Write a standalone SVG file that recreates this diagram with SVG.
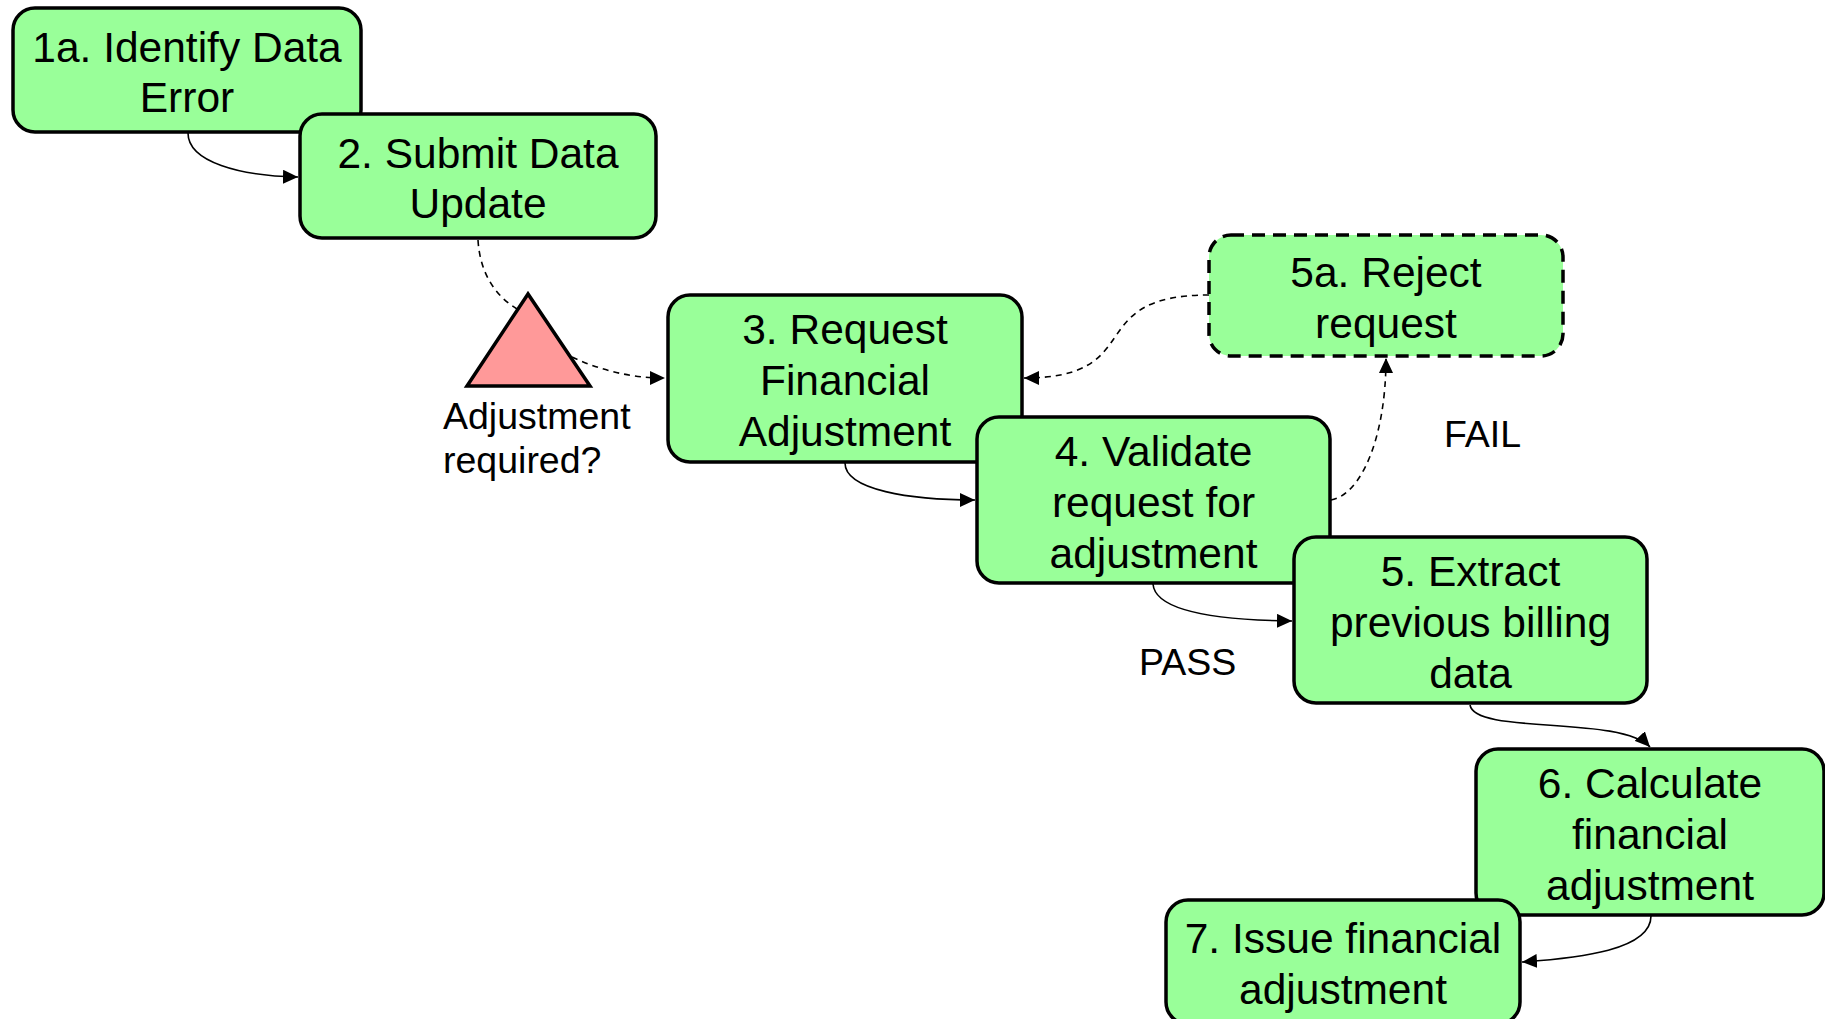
<svg xmlns="http://www.w3.org/2000/svg" width="1825" height="1019" viewBox="0 0 1825 1019">
<style>
.box{fill:#99FF99;stroke:#000;stroke-width:3.5}
.dashbox{stroke-dasharray:13 8}
.t{font-family:"Liberation Sans",Arial,sans-serif;font-size:42.5px;fill:#000;text-anchor:middle}
.lbl{font-family:"Liberation Sans",Arial,sans-serif;font-size:37.5px;fill:#000}
.c{fill:none;stroke:#000;stroke-width:1.6}
.d{stroke-dasharray:6 5}
</style>
<defs>
<marker id="arr" viewBox="0 0 15 14" refX="15" refY="7" markerWidth="15" markerHeight="14" markerUnits="userSpaceOnUse" orient="auto">
<path d="M0,0 L15,7 L0,14 z" fill="#000"/>
</marker>
</defs>
<g id="nodes">
<g id="n1a"><rect class="box" x="13" y="8" width="348" height="124" rx="22"/><text class="t" x="187" y="62">1a. Identify Data</text><text class="t" x="187" y="112">Error</text></g>
<g id="n2"><rect class="box" x="300" y="114" width="356" height="124" rx="22"/><text class="t" x="478" y="168">2. Submit Data</text><text class="t" x="478" y="218">Update</text></g>
<g id="decision"><polygon points="528,294 467,386 590,386" fill="#FF9999" stroke="#000" stroke-width="3.5" stroke-linejoin="miter"/><text class="lbl" x="443" y="429">Adjustment</text><text class="lbl" x="443" y="473">required?</text></g>
<g id="n3"><rect class="box" x="668" y="295" width="354" height="167" rx="22"/><text class="t" x="845" y="344">3. Request</text><text class="t" x="845" y="395">Financial</text><text class="t" x="845" y="446">Adjustment</text></g>
<g id="n5a"><rect class="box dashbox" x="1209" y="235" width="354" height="121" rx="22"/><text class="t" x="1386" y="287">5a. Reject</text><text class="t" x="1386" y="338">request</text></g>
<g id="n4"><rect class="box" x="977" y="417" width="353" height="166" rx="22"/><text class="t" x="1153.5" y="466">4. Validate</text><text class="t" x="1153.5" y="517">request for</text><text class="t" x="1153.5" y="568">adjustment</text></g>
<g id="n5"><rect class="box" x="1294" y="537" width="353" height="166" rx="22"/><text class="t" x="1470.5" y="586">5. Extract</text><text class="t" x="1470.5" y="637">previous billing</text><text class="t" x="1470.5" y="688">data</text></g>
<g id="n6"><rect class="box" x="1476" y="749" width="348" height="166" rx="22"/><text class="t" x="1650" y="798">6. Calculate</text><text class="t" x="1650" y="849">financial</text><text class="t" x="1650" y="900">adjustment</text></g>
<g id="n7"><rect class="box" x="1166" y="900" width="354" height="124" rx="22"/><text class="t" x="1343" y="953">7. Issue financial</text><text class="t" x="1343" y="1004">adjustment</text></g>
</g>
<g id="connectors">
<path class="c" d="M188,133 C188,162 240,176 298,177" marker-end="url(#arr)"/>
<path class="c d" d="M478,240 C480,275 497,297 517,309"/>
<path class="c d" d="M572,357 C600,370 630,378 665,378" marker-end="url(#arr)"/>
<path class="c" d="M845,463 C845,490 910,500 975,500" marker-end="url(#arr)"/>
<path class="c" d="M1153,584 C1155,610 1210,620 1292,621" marker-end="url(#arr)"/>
<path class="c d" d="M1331,500 C1360,495 1386,440 1386,358" marker-end="url(#arr)"/>
<path class="c d" d="M1209,295 C1080,295 1150,378 1024,378" marker-end="url(#arr)"/>
<path class="c" d="M1470,705 C1475,735 1620,715 1650,747" marker-end="url(#arr)"/>
<path class="c" d="M1651,916 C1651,950 1580,958 1522,962" marker-end="url(#arr)"/>
<text class="lbl" x="1444" y="447">FAIL</text>
<text class="lbl" x="1139" y="675">PASS</text>
</g>
</svg>
